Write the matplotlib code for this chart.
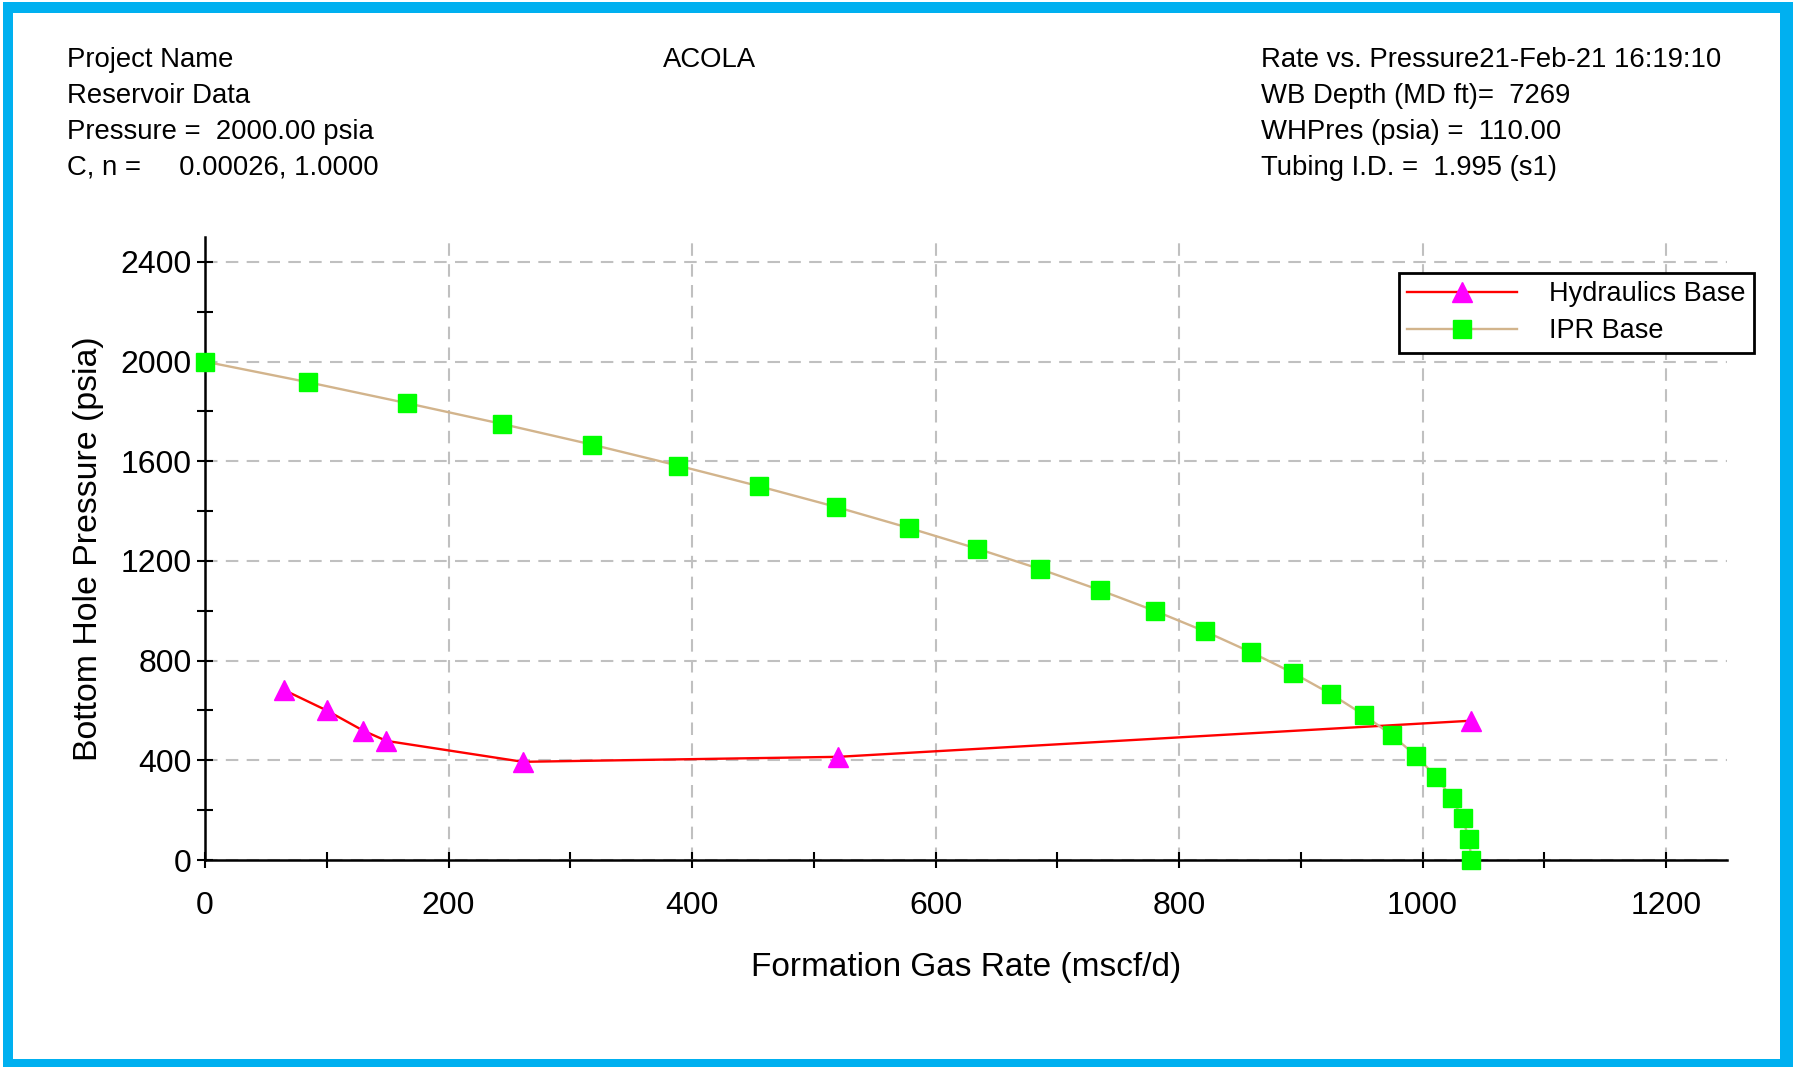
import matplotlib
matplotlib.use("Agg")
import matplotlib.pyplot as plt
from matplotlib.patches import Rectangle
from matplotlib.ticker import MultipleLocator

plt.rcParams['font.family'] = ['Liberation Sans', 'DejaVu Sans']

# IPR curve (bottom hole pressure vs. formation gas rate)
ipr_rate = [0.0, 84.9, 166.1, 243.8, 317.8, 388.2, 455.0, 518.2, 577.8, 633.8,
            686.1, 734.9, 780.0, 821.5, 859.4, 893.8, 924.4, 951.5, 975.0,
            994.9, 1011.1, 1023.8, 1032.8, 1038.2, 1040.0]
ipr_pressure = [2000, 1917, 1833, 1750, 1667, 1583, 1500, 1417, 1333, 1250,
                1167, 1083, 1000, 917, 833, 750, 667, 583, 500, 417, 333,
                250, 167, 83, 0]

# Tubing hydraulics curve
hyd_rate = [65, 100, 130, 149, 261, 520, 1040]
hyd_pressure = [682, 600, 519, 478, 394, 414, 559]

x_ticks = [0, 200, 400, 600, 800, 1000, 1200]
y_ticks = [0, 400, 800, 1200, 1600, 2000, 2400]

header_left = ["Project Name", "Reservoir Data",
               "Pressure =  2000.00 psia", "C, n =     0.00026, 1.0000"]
header_mid = "ACOLA"
header_right = ["Rate vs. Pressure21-Feb-21 16:19:10", "WB Depth (MD ft)=  7269",
                "WHPres (psia) =  110.00", "Tubing I.D. =  1.995 (s1)"]

W, H = 1793, 1067
fig = plt.figure(figsize=(W / 100, H / 100), dpi=100)

# cyan frame around the page
fig.patches.append(Rectangle((3 / W, 0), 1 - 3 / W, 1 - 2 / H, transform=fig.transFigure,
                             facecolor='#00B0F0', edgecolor='none', zorder=-10))
fig.patches.append(Rectangle((13 / W, 8 / H), (1780 - 13) / W, (1059 - 13) / H,
                             transform=fig.transFigure, facecolor='white',
                             edgecolor='none', zorder=-9))

# header block
baselines = [67, 103, 139, 175]
for txt, yb in zip(header_left, baselines):
    fig.text(67 / W, 1 - yb / H, txt, fontsize=19.8, va='baseline', ha='left')
fig.text(663 / W, 1 - baselines[0] / H, header_mid, fontsize=19.8, va='baseline', ha='left')
for txt, yb in zip(header_right, baselines):
    fig.text(1261 / W, 1 - yb / H, txt, fontsize=19.8, va='baseline', ha='left')

ax = fig.add_axes([205 / W, 1 - 860 / H, (1727 - 205) / W, (860 - 237) / H])
ax.set_xlim(0, 1250)
ax.set_ylim(0, 2500)

ax.plot(hyd_rate, hyd_pressure, color='#FF0000', lw=1.7, marker='^', markersize=13.9,
        markerfacecolor='#FF00FF', markeredgecolor='#FF00FF', label='Hydraulics Base',
        clip_on=False, zorder=3)
ax.plot(ipr_rate, ipr_pressure, color='#D2B48C', lw=1.7, marker='s', markersize=13.3,
        markerfacecolor='#00FF00', markeredgecolor='#00FF00', label='IPR Base',
        clip_on=False, zorder=4)

ax.set_xticks(x_ticks)
ax.set_yticks(y_ticks)
ax.xaxis.set_minor_locator(MultipleLocator(100))
ax.yaxis.set_minor_locator(MultipleLocator(200))
ax.tick_params(axis='both', which='both', direction='inout', length=11, width=1.5,
               color='black', labelsize=23)
ax.tick_params(axis='x', which='major', pad=16.5)
ax.tick_params(axis='y', which='major', pad=4)

ax.grid(True, which='major', color='#C0C0C0', lw=1.5, linestyle=(0, (6, 4)), zorder=0)
ax.set_axisbelow(True)

for side in ('top', 'right'):
    ax.spines[side].set_visible(False)
for side in ('left', 'bottom'):
    ax.spines[side].set_linewidth(1.8)
    ax.spines[side].set_color('black')

ax.set_xlabel("Formation Gas Rate (mscf/d)", fontsize=24)
ax.set_ylabel("Bottom Hole Pressure (psia)", fontsize=24.4)
ax.xaxis.set_label_coords(0.5, -0.148)
ax.yaxis.set_label_coords(-0.0664, 0.5)

leg = ax.legend(loc='upper left', bbox_to_anchor=(1399 / W, 1 - 273 / H),
                bbox_transform=fig.transFigure, fontsize=19.5, frameon=True,
                fancybox=False, handlelength=4.05, handletextpad=1.2,
                borderpad=0.3, labelspacing=0.42, borderaxespad=0)
leg.get_frame().set_edgecolor('black')
leg.get_frame().set_linewidth(2)
leg.get_frame().set_alpha(1)

fig.savefig("out.png", dpi=100)
